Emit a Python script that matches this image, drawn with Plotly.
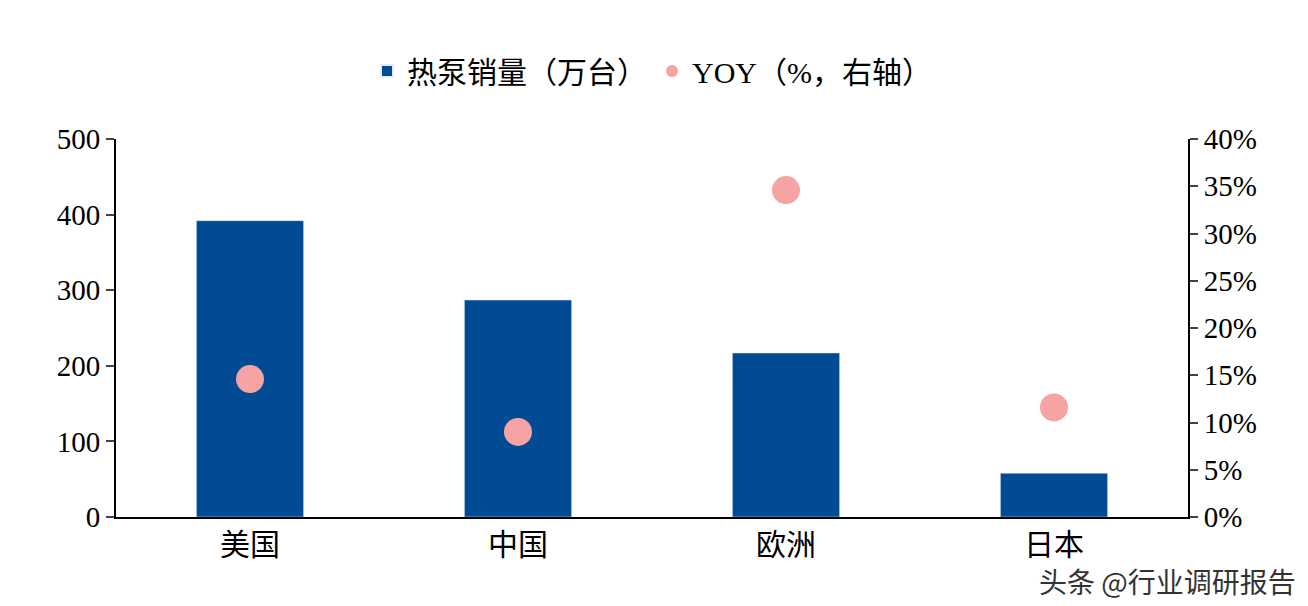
import plotly.graph_objects as go

categories = ["美国", "中国", "欧洲", "日本"]
sales = [392, 287, 217, 58]
yoy = [14.6, 9.0, 34.6, 11.6]
left_ticks = [0, 100, 200, 300, 400, 500]
right_ticks = [0, 5, 10, 15, 20, 25, 30, 35, 40]

font_fam = "Liberation Serif, Noto Sans CJK SC"
fig = go.Figure()
fig.add_trace(go.Bar(x=categories, y=sales, name="热泵销量（万台）",
                     marker_color="#004B93", width=0.4))
fig.add_trace(go.Scatter(x=categories, y=yoy, name="YOY（%，右轴）", yaxis="y2",
                         mode="markers", marker=dict(size=28, color="#F5A3A3")))
fig.update_layout(
    width=1308, height=606, plot_bgcolor="white", paper_bgcolor="white",
    margin=dict(l=108, r=128, t=131, b=97, autoexpand=False),
    font=dict(family=font_fam, size=29, color="black"),
    legend=dict(orientation="h", x=0.5, xanchor="center", y=1.18, yanchor="middle",
                font=dict(size=30), itemsizing="constant"),
    xaxis=dict(showline=True, linecolor="black", linewidth=2, ticks="", tickfont=dict(size=30)),
    yaxis=dict(range=[0, 500], tickvals=left_ticks, showline=True, linecolor="black",
               linewidth=2, ticks="outside", ticklen=8, tickwidth=2, showgrid=False,
               zeroline=False),
    yaxis2=dict(range=[0, 40], tickvals=right_ticks, ticktext=[f"{t}%" for t in right_ticks],
                overlaying="y", side="right", showline=True, linecolor="black", linewidth=2,
                ticks="outside", ticklen=8, tickwidth=2, showgrid=False, zeroline=False),
    annotations=[dict(text="头条 @行业调研报告", x=1.0 + 110/1072, y=-0.17,
                      xref="paper", yref="paper", showarrow=False,
                      font=dict(size=28, color="#333", family="Noto Sans CJK SC"),
                      xanchor="right", yanchor="middle")]
)
fig.write_html("out.html")
